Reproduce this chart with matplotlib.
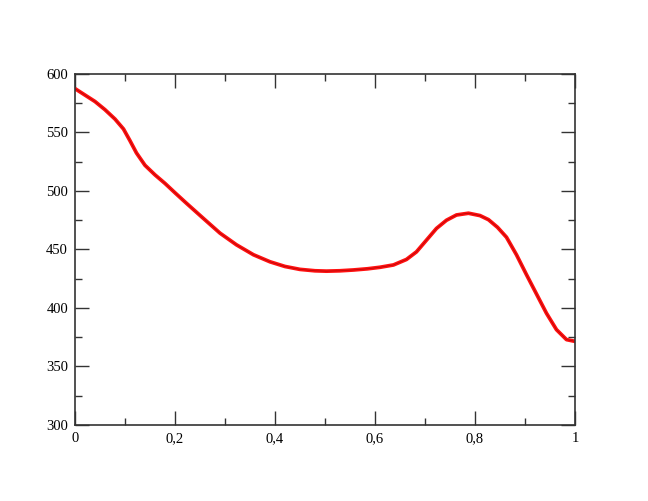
import matplotlib
matplotlib.use('Agg')
import matplotlib.pyplot as plt
from matplotlib.ticker import MultipleLocator, FuncFormatter

# values
x_vals = [0.0, 0.02, 0.04, 0.06, 0.08, 0.097, 0.11, 0.123, 0.14, 0.16,
          0.18, 0.2, 0.223, 0.257, 0.29, 0.323, 0.357, 0.39, 0.42, 0.45,
          0.48, 0.503, 0.53, 0.557, 0.585, 0.61, 0.637, 0.663, 0.683, 0.703,
          0.723, 0.743, 0.763, 0.787, 0.81, 0.827, 0.845, 0.863, 0.883, 0.903,
          0.923, 0.943, 0.963, 0.983, 1.0]
y_vals = [587.5, 582.0, 576.5, 569.5, 561.5, 553.0, 543.0, 532.5, 522.0, 513.8,
          506.5, 498.5, 489.5, 476.5, 464.0, 454.0, 445.5, 439.5, 435.5, 433.0,
          431.8, 431.5, 431.8, 432.5, 433.5, 434.8, 436.8, 441.5, 448.0, 458.0,
          468.0, 475.0, 479.5, 481.0, 479.0, 475.5, 469.0, 460.5, 445.5, 428.5,
          412.0, 395.5, 381.5, 373.0, 371.5]

fig = plt.figure(figsize=(6.48, 5.01), dpi=100)
ax = fig.add_axes([0.1157, 0.1517, 0.7716, 0.7006])

ax.plot(x_vals, y_vals, color='#ff1010', linewidth=2.7, solid_capstyle='round',
        solid_joinstyle='round')
ax.plot(x_vals, y_vals, color='#700000', linewidth=0.5, alpha=0.55)

ax.set_xlim(0, 1)
ax.set_ylim(300, 600)

ax.xaxis.set_major_locator(MultipleLocator(0.2))
ax.xaxis.set_minor_locator(MultipleLocator(0.1))
ax.yaxis.set_major_locator(MultipleLocator(50))
ax.yaxis.set_minor_locator(MultipleLocator(25))
ax.xaxis.set_major_formatter(FuncFormatter(lambda v, p: ('%g' % round(v, 3)).replace('.', ',')))
ax.yaxis.set_major_formatter(FuncFormatter(lambda v, p: '%d' % v))

ax.tick_params(which='both', direction='in', top=True, right=True, width=1.0, color='#333333')
ax.tick_params(which='major', length=10, pad=5)
ax.tick_params(which='minor', length=5)
for lbl in ax.get_xticklabels() + ax.get_yticklabels():
    lbl.set_family('Liberation Serif')
    lbl.set_fontsize(10.5)
for s in ax.spines.values():
    s.set_linewidth(1.2)
    s.set_color('#333333')

plt.savefig('out.png', dpi=100, facecolor='white')
